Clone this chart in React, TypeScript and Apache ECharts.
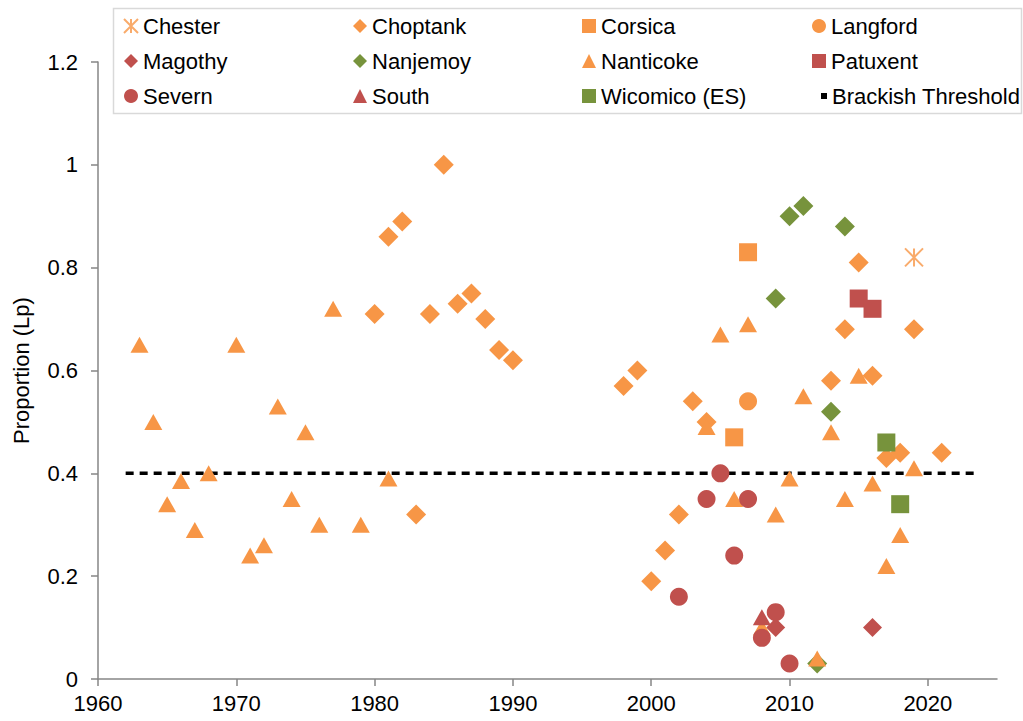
import React, { useEffect, useRef } from 'react';
import * as echarts from 'echarts';

const FONT = '"Liberation Sans", Arial, Helvetica, sans-serif';
const ORANGE = '#F79646';
const RED = '#C0504D';
const GREEN = '#77933C';

// [year, proportion Lp]
const chester = [[2019, 0.82]];
const choptank = [
  [1980, 0.71], [1981, 0.86], [1982, 0.89], [1983, 0.32], [1984, 0.71], [1985, 1.0],
  [1986, 0.73], [1987, 0.75], [1988, 0.7], [1989, 0.64], [1990, 0.62],
  [1998, 0.57], [1999, 0.6], [2000, 0.19], [2001, 0.25], [2002, 0.32], [2003, 0.54],
  [2004, 0.5], [2013, 0.58], [2014, 0.68], [2015, 0.81], [2016, 0.59], [2017, 0.43],
  [2018, 0.44], [2019, 0.68], [2021, 0.44],
];
const corsica = [[2006, 0.47], [2007, 0.83]];
const langford = [[2007, 0.54]];
const magothy = [[2009, 0.1], [2016, 0.1]];
const nanjemoy = [[2009, 0.74], [2010, 0.9], [2011, 0.92], [2012, 0.03], [2013, 0.52], [2014, 0.88]];
const nanticoke = [
  [1963, 0.65], [1964, 0.5], [1965, 0.34], [1966, 0.385], [1967, 0.29], [1968, 0.4],
  [1970, 0.65], [1971, 0.24], [1972, 0.26], [1973, 0.53], [1974, 0.35], [1975, 0.48],
  [1976, 0.3], [1977, 0.72], [1979, 0.3], [1981, 0.39],
  [2004, 0.49], [2005, 0.67], [2006, 0.35], [2007, 0.69], [2008, 0.1], [2009, 0.32],
  [2010, 0.39], [2011, 0.55], [2012, 0.04], [2013, 0.48], [2014, 0.35], [2015, 0.59],
  [2016, 0.38], [2017, 0.22], [2018, 0.28], [2019, 0.41],
];
const patuxent = [[2015, 0.74], [2016, 0.72]];
const severn = [[2002, 0.16], [2004, 0.35], [2005, 0.4], [2006, 0.24], [2007, 0.35], [2008, 0.08], [2009, 0.13], [2010, 0.03]];
const south = [[2008, 0.12]];
const wicomico = [[2017, 0.46], [2018, 0.34]];

const thresholdYears = [1962, 2023.5];
const thresholdValue = 0.4;

const xTicks = [1960, 1970, 1980, 1990, 2000, 2010, 2020];

const ASTERISK = 'path://M0 0L10 10M10 0L0 10M5 0L5 10';

type Spec = { name: string; data: number[][]; symbol: string; size: number | number[]; color: string };

const specs: Spec[] = [
  { name: 'Chester', data: chester, symbol: ASTERISK, size: 18, color: ORANGE },
  { name: 'Choptank', data: choptank, symbol: 'diamond', size: 20, color: ORANGE },
  { name: 'Corsica', data: corsica, symbol: 'rect', size: 18, color: ORANGE },
  { name: 'Langford', data: langford, symbol: 'circle', size: 18, color: ORANGE },
  { name: 'Magothy', data: magothy, symbol: 'diamond', size: 19, color: RED },
  { name: 'Nanjemoy', data: nanjemoy, symbol: 'diamond', size: 20, color: GREEN },
  { name: 'Nanticoke', data: nanticoke, symbol: 'triangle', size: [18, 16], color: ORANGE },
  { name: 'Patuxent', data: patuxent, symbol: 'rect', size: 18, color: RED },
  { name: 'Severn', data: severn, symbol: 'circle', size: 18, color: RED },
  { name: 'South', data: south, symbol: 'triangle', size: [18, 16], color: RED },
  { name: 'Wicomico (ES)', data: wicomico, symbol: 'rect', size: 18, color: GREEN },
];

export default function App() {
  const ref = useRef<HTMLDivElement>(null);

  useEffect(() => {
    if (!ref.current) return;
    const chart = echarts.init(ref.current, undefined, { renderer: 'svg' });

    const scatterSeries = specs.map((s) => {
      const isStar = s.symbol === ASTERISK;
      return {
        name: s.name,
        type: 'scatter',
        data: s.data,
        symbol: s.symbol,
        symbolSize: s.size,
        itemStyle: isStar
          ? { color: 'rgba(0,0,0,0)', borderColor: s.color, borderWidth: 2 }
          : { color: s.color, opacity: 1 },
        emphasis: { disabled: true },
      };
    });

    const legendBase = {
      orient: 'vertical',
      itemWidth: 14,
      itemHeight: 14,
      itemGap: 13,
      padding: 0,
      selectedMode: false,
      textStyle: { fontSize: 22, color: '#000', fontFamily: FONT },
    };

    chart.setOption({
      animation: false,
      textStyle: { fontFamily: FONT },
      grid: { left: 98, top: 62, right: 26, bottom: 42, containLabel: false },
      graphic: [
        {
          type: 'rect',
          z: 0,
          shape: { x: 113.5, y: 8.5, width: 908, height: 105 },
          style: { fill: '#fff', stroke: '#D9D9D9', lineWidth: 1.5 },
        },
      ],
      legend: [
        { ...legendBase, left: 123, top: 15, data: ['Chester', 'Magothy', 'Severn'] },
        { ...legendBase, left: 353, top: 15, data: ['Choptank', 'Nanjemoy', 'South'] },
        { ...legendBase, left: 582, top: 15, data: ['Corsica', 'Nanticoke', 'Wicomico (ES)'] },
        { ...legendBase, left: 812, top: 15, data: ['Langford', 'Patuxent'] },
        {
          ...legendBase,
          left: 821,
          top: 85,
          itemWidth: 6,
          itemHeight: 6,
          data: [{ name: 'Brackish Threshold', icon: 'rect' }],
        },
      ],
      xAxis: {
        type: 'value',
        min: 1960,
        max: 2025,
        interval: 10,
        splitLine: { show: false },
        axisLine: { lineStyle: { color: '#868686', width: 1.5 } },
        axisTick: { length: 7, lineStyle: { color: '#868686', width: 1.5 }, customValues: xTicks },
        axisLabel: {
          customValues: xTicks,
          formatter: (v: number) => String(v),
          fontSize: 22,
          color: '#000',
          margin: 13,
          fontFamily: FONT,
        },
      },
      yAxis: {
        type: 'value',
        min: 0,
        max: 1.2,
        interval: 0.2,
        name: 'Proportion (Lp)',
        nameLocation: 'middle',
        nameGap: 66,
        nameTextStyle: { fontSize: 22, color: '#000', fontFamily: FONT },
        splitLine: { show: false },
        axisLine: { show: true, lineStyle: { color: '#868686', width: 1.5 } },
        axisTick: { show: true, length: 7, lineStyle: { color: '#868686', width: 1.5 } },
        axisLabel: { fontSize: 22, color: '#000', margin: 20, fontFamily: FONT },
      },
      series: [
        {
          name: 'Brackish Threshold',
          type: 'line',
          data: thresholdYears.map((y) => [y, thresholdValue]),
          symbol: 'none',
          lineStyle: { color: '#000', width: 3.5, type: [8, 6] },
          itemStyle: { color: '#000' },
          emphasis: { disabled: true },
          z: 1,
        },
        ...scatterSeries,
      ],
    });

    return () => chart.dispose();
  }, []);

  return (
    <div
      ref={ref}
      style={{ position: 'fixed', left: 0, top: 0, width: 1023, height: 721, background: '#fff' }}
    />
  );
}
